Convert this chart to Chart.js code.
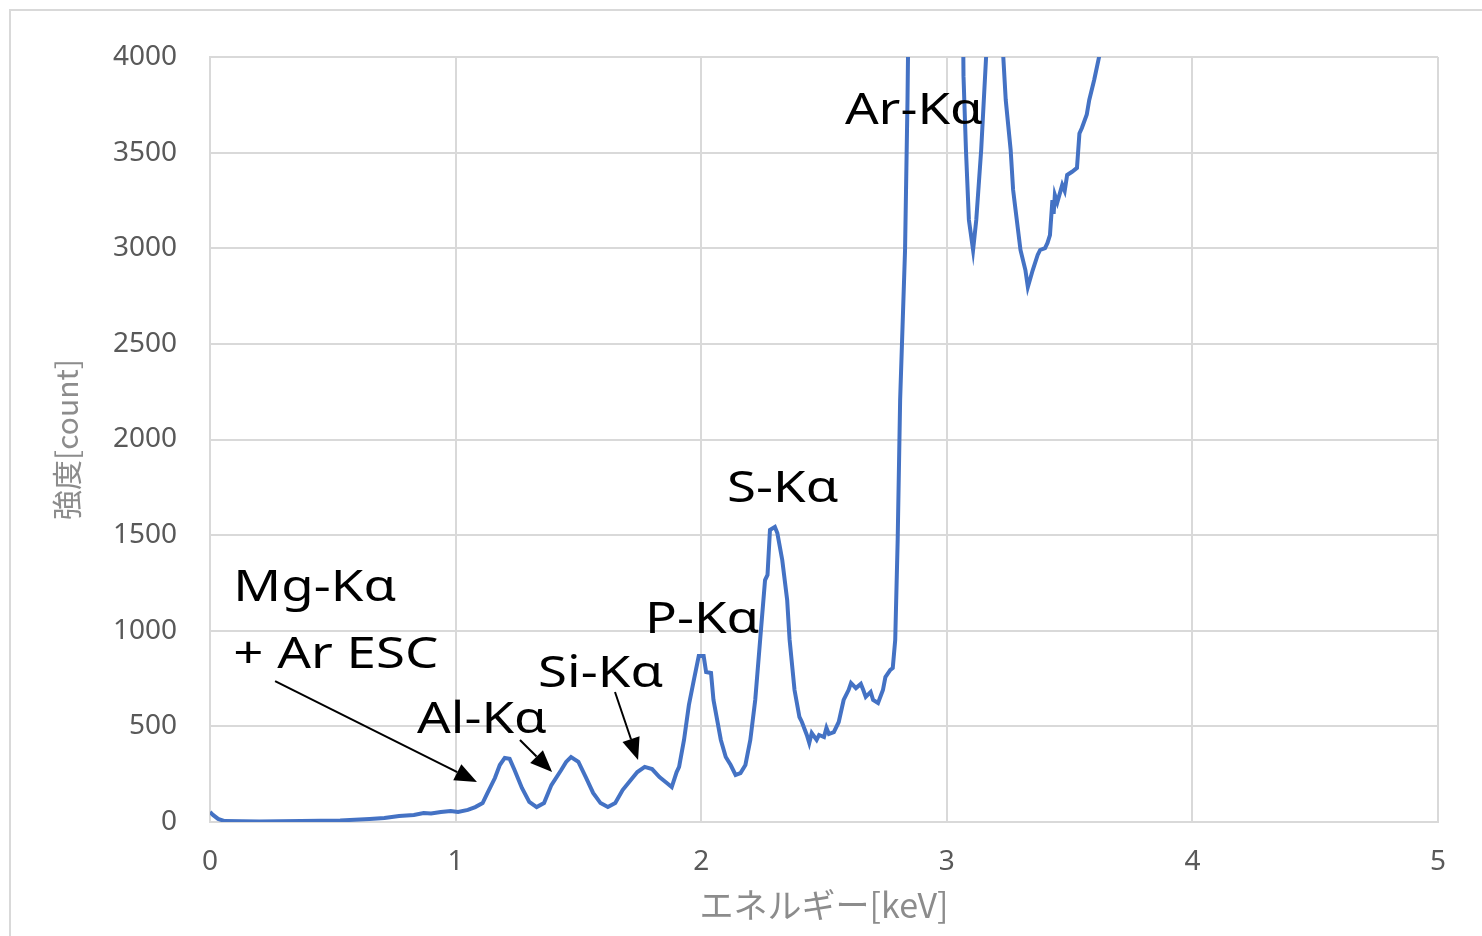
<!DOCTYPE html>
<html>
<head>
<meta charset="utf-8">
<script src="https://cdn.jsdelivr.net/npm/chart.js@4/dist/chart.umd.min.js"></script>
<style>
  html, body { margin: 0; padding: 0; background: #fff; }
  #wrap { width: 1482px; height: 936px; }
</style>
</head>
<body>
<div id="wrap"><canvas id="myChart" width="1482" height="936"></canvas></div>
<script>
// spectrum (keV, count)
var energy = [
  0.00, 0.012, 0.033, 0.06, 0.20, 0.37, 0.53, 0.65, 0.71, 0.77, 0.83, 0.87, 0.90, 0.94, 0.98,
  1.01, 1.05, 1.08, 1.11, 1.13, 1.16, 1.18, 1.20, 1.22, 1.24, 1.27, 1.30, 1.33, 1.36, 1.39,
  1.43, 1.45, 1.47, 1.50, 1.53, 1.56, 1.59, 1.62, 1.65, 1.68, 1.71, 1.74, 1.77, 1.80, 1.83,
  1.86, 1.88, 1.90, 1.91, 1.93, 1.95, 1.97, 1.99, 2.01, 2.02, 2.04, 2.05, 2.08, 2.10, 2.12,
  2.14, 2.16, 2.18, 2.20, 2.22, 2.24, 2.26, 2.27, 2.28, 2.30, 2.31, 2.33, 2.35, 2.36, 2.38,
  2.40, 2.41, 2.43, 2.44, 2.45, 2.47, 2.48, 2.50, 2.51, 2.52, 2.54, 2.56, 2.58, 2.60, 2.61,
  2.63, 2.65, 2.66, 2.67, 2.69, 2.70, 2.72, 2.74, 2.75, 2.77, 2.78, 2.79, 2.80, 2.81, 2.83,
  2.84, 2.86, 2.90, 2.96, 3.00, 3.04, 3.068, 3.078, 3.09, 3.107, 3.12, 3.14, 3.16, 3.175, 3.19,
  3.21, 3.23, 3.24, 3.26, 3.27, 3.28, 3.30, 3.32, 3.33, 3.35, 3.37, 3.38, 3.40, 3.41, 3.42,
  3.43, 3.435, 3.44, 3.45, 3.47, 3.48, 3.49, 3.51, 3.53, 3.54, 3.55, 3.57, 3.58, 3.60, 3.62,
  3.66, 3.70, 3.75
];
var counts = [
  52, 37, 16, 5, 3, 5, 8, 16, 21, 31, 37, 47, 44, 52, 58,
  52, 63, 78, 99, 152, 230, 298, 335, 330, 272, 178, 105, 78, 99, 193,
  272, 314, 340, 314, 235, 152, 99, 78, 99, 167, 214, 261, 288, 277, 235,
  204, 183, 261, 288, 429, 612, 742, 868, 868, 784, 779, 638, 429, 340, 298,
  246, 256, 298, 429, 638, 952, 1265, 1292, 1527, 1543, 1511, 1370, 1161, 952, 690,
  549, 523, 455, 413, 465, 429, 455, 444, 492, 460, 470, 523, 638, 690, 727,
  700, 722, 690, 654, 680, 638, 622, 690, 758, 795, 805, 952, 1475, 2207, 2991,
  3775, 6000, 16000, 26000, 18000, 8000, 3900, 3514, 3148, 2991, 3148, 3514, 4000, 4600, 4900,
  4600, 4000, 3775, 3514, 3305, 3200, 2991, 2886, 2797, 2886, 2965, 2991, 3001, 3028, 3069,
  3252, 3180, 3279, 3240, 3331, 3300, 3383, 3400, 3420, 3600, 3629, 3700, 3775, 3880, 4000,
  4400, 4900, 5600
];
var xTicks = [0, 1, 2, 3, 4, 5];
var yTicks = [0, 500, 1000, 1500, 2000, 2500, 3000, 3500, 4000];

// peak labels and arrows, placed in keV / count
var notes = [
  { text: 'Mg-Kα', x: 0.095, y: 1156 },
  { text: '+ Ar ESC', x: 0.095, y: 805 },
  { text: 'Al-Kα', x: 0.843, y: 465 },
  { text: 'Si-Kα', x: 1.336, y: 706 },
  { text: 'P-Kα', x: 1.771, y: 988 },
  { text: 'S-Kα', x: 2.105, y: 1673 },
  { text: 'Ar-Kα', x: 2.585, y: 3650 }
];
var arrows = [
  [0.265, 737, 1.087, 209],
  [1.262, 429, 1.393, 261],
  [1.649, 680, 1.743, 324]
];

var points = [];
for (var i = 0; i < energy.length; i++) {
  points.push({ x: energy[i], y: counts[i] });
}

var frame = {
  id: 'frame',
  beforeDraw: function(chart) {
    var ctx = chart.ctx;
    ctx.save();
    ctx.fillStyle = '#fff';
    ctx.fillRect(0, 0, chart.width, chart.height);
    ctx.strokeStyle = '#d9d9d9';
    ctx.lineWidth = 2;
    ctx.strokeRect(10, 10, 1500, 1000);
    ctx.restore();
  }
};

var annotate = {
  id: 'annotate',
  afterDatasetsDraw: function(chart) {
    var ctx = chart.ctx;
    var xs = chart.scales.x, ys = chart.scales.y;
    ctx.save();
    ctx.fillStyle = '#000';
    ctx.strokeStyle = '#000';
    ctx.font = '44px "Noto Sans"';
    ctx.textBaseline = 'alphabetic';
    ctx.textAlign = 'left';
    notes.forEach(function(n) {
      ctx.save();
      ctx.translate(xs.getPixelForValue(n.x), ys.getPixelForValue(n.y));
      ctx.scale(1.2, 1);
      ctx.fillText(n.text, 0, 0);
      ctx.restore();
    });
    arrows.forEach(function(a) {
      var x1 = xs.getPixelForValue(a[0]), y1 = ys.getPixelForValue(a[1]);
      var x2 = xs.getPixelForValue(a[2]), y2 = ys.getPixelForValue(a[3]);
      var ang = Math.atan2(y2 - y1, x2 - x1);
      var len = 22, half = 9;
      var bx = x2 - len * Math.cos(ang), by = y2 - len * Math.sin(ang);
      ctx.lineWidth = 2;
      ctx.beginPath();
      ctx.moveTo(x1, y1);
      ctx.lineTo(bx, by);
      ctx.stroke();
      ctx.beginPath();
      ctx.moveTo(x2, y2);
      ctx.lineTo(bx + half * Math.sin(ang), by - half * Math.cos(ang));
      ctx.lineTo(bx - half * Math.sin(ang), by + half * Math.cos(ang));
      ctx.closePath();
      ctx.fill();
    });
    ctx.restore();
  }
};

var ctx = document.getElementById('myChart');
var myChart = new Chart(ctx, {
  type: 'line',
  data: {
    datasets: [{
      data: points,
      borderColor: '#4472C4',
      borderWidth: 4,
      pointRadius: 0,
      tension: 0,
      fill: false
    }]
  },
  options: {
    responsive: false,
    animation: false,
    events: [],
    layout: { padding: { left: 0, right: 44, top: 57, bottom: 0 } },
    plugins: { legend: { display: false }, tooltip: { enabled: false } },
    scales: {
      x: {
        type: 'linear',
        min: 0, max: 5,
        afterBuildTicks: function(s) { s.ticks = xTicks.map(function(v) { return { value: v }; }); },
        afterFit: function(s) { s.height = 114; },
        grid: { color: '#d9d9d9', lineWidth: 2, drawTicks: false },
        border: { color: '#d9d9d9', width: 2 },
        ticks: {
          color: '#595959', padding: 23, font: { family: 'Noto Sans', size: 28 },
          callback: function(v) { return String(v); }
        },
        title: {
          display: true, text: 'エネルギー[keV]', color: '#8c8c8c',
          padding: { top: 0, bottom: 11 },
          font: { family: '"Noto Sans CJK JP"', size: 34 }
        }
      },
      y: {
        min: 0, max: 4000,
        afterBuildTicks: function(s) { s.ticks = yTicks.map(function(v) { return { value: v }; }); },
        afterFit: function(s) { s.width = 210; },
        grid: { color: '#d9d9d9', lineWidth: 2, drawTicks: false },
        border: { color: '#d9d9d9', width: 2 },
        ticks: {
          color: '#595959', padding: 33, font: { family: 'Noto Sans', size: 28 },
          callback: function(v) { return String(v); }
        },
        title: {
          display: true, text: '強度[count]', color: '#8c8c8c',
          padding: { top: 49, bottom: 0 },
          font: { family: '"Noto Sans CJK JP"', size: 30 }
        }
      }
    }
  },
  plugins: [frame, annotate]
});
</script>
</body>
</html>
